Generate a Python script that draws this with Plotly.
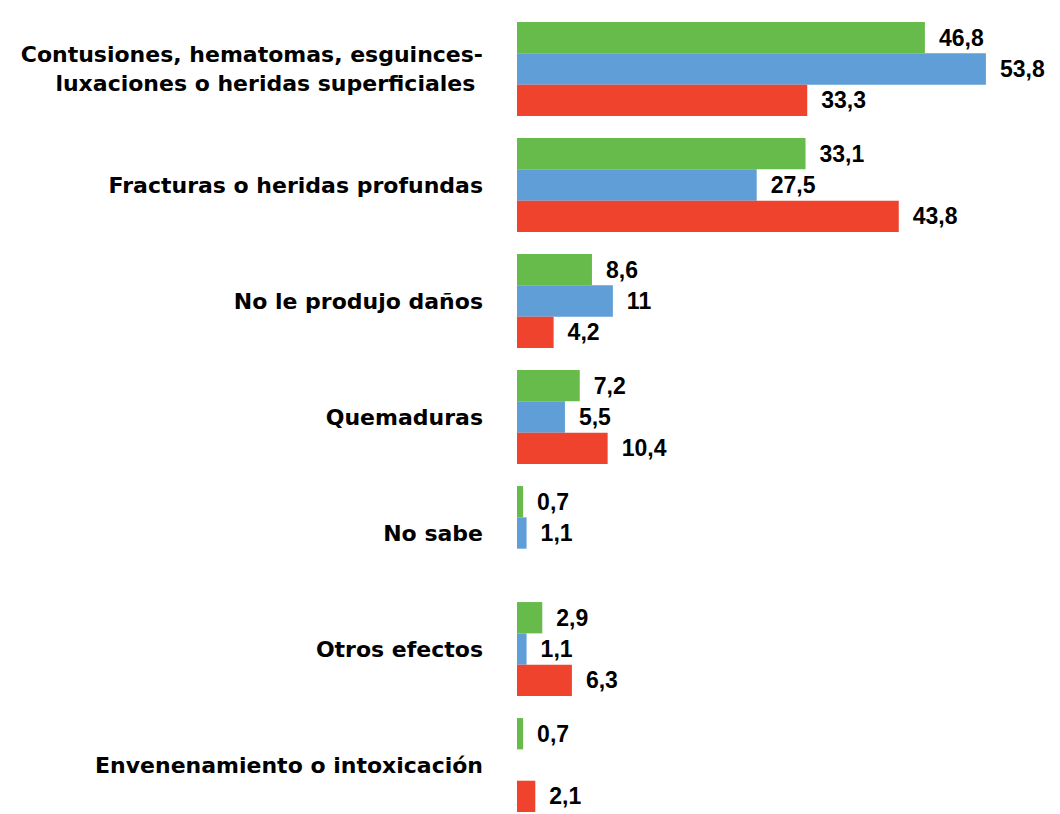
import plotly.graph_objects as go

# Categories (top to bottom) and the three series
categories = [
    "Contusiones, hematomas, esguinces-<br>luxaciones o heridas superficiales ",
    "Fracturas o heridas profundas",
    "No le produjo daños",
    "Quemaduras",
    "No sabe",
    "Otros efectos",
    "Envenenamiento o intoxicación",
]
green_vals = [46.8, 33.1, 8.6, 7.2, 0.7, 2.9, 0.7]
blue_vals = [53.8, 27.5, 11, 5.5, 1.1, 1.1, None]
red_vals = [33.3, 43.8, 4.2, 10.4, None, 6.3, 2.1]

series = [
    ("Serie 1", green_vals, "#66BB4A"),
    ("Serie 2", blue_vals, "#5F9ED7"),
    ("Serie 3", red_vals, "#EF432E"),
]


def fmt(v):
    # decimal comma, no trailing zero
    if v is None:
        return ""
    return "\u00a0\u2009" + ("%g" % v).replace(".", ",")


fig = go.Figure()
for name, vals, color in series:
    fig.add_trace(
        go.Bar(
            y=categories,
            x=vals,
            name=name,
            orientation="h",
            marker=dict(color=color, line=dict(width=0)),
            text=[fmt(v) for v in vals],
            textposition="outside",
            constraintext="none",
            cliponaxis=False,
            textfont=dict(family="Liberation Sans", size=23, color="#000000", weight="bold"),
            hoverinfo="skip",
        )
    )

# page body adds an 8px margin, so the figure is a bit smaller than the window
fig.update_layout(
    width=1052,
    height=806,
    barmode="group",
    bargap=0.19,
    bargroupgap=0,
    showlegend=False,
    plot_bgcolor="white",
    paper_bgcolor="white",
    margin=dict(l=509, r=0, t=3, b=0),
)
fig.update_xaxes(
    range=[0, 62.3],
    visible=False,
    showgrid=False,
    zeroline=False,
)
fig.update_yaxes(
    range=[6.422, -0.5],
    showgrid=False,
    zeroline=False,
    showline=False,
    ticks="",
    ticklabelstandoff=33,
    automargin=False,
    tickfont=dict(family="DejaVu Sans", size=22, color="#000000", weight="bold"),
)

fig.write_html("out.html")
